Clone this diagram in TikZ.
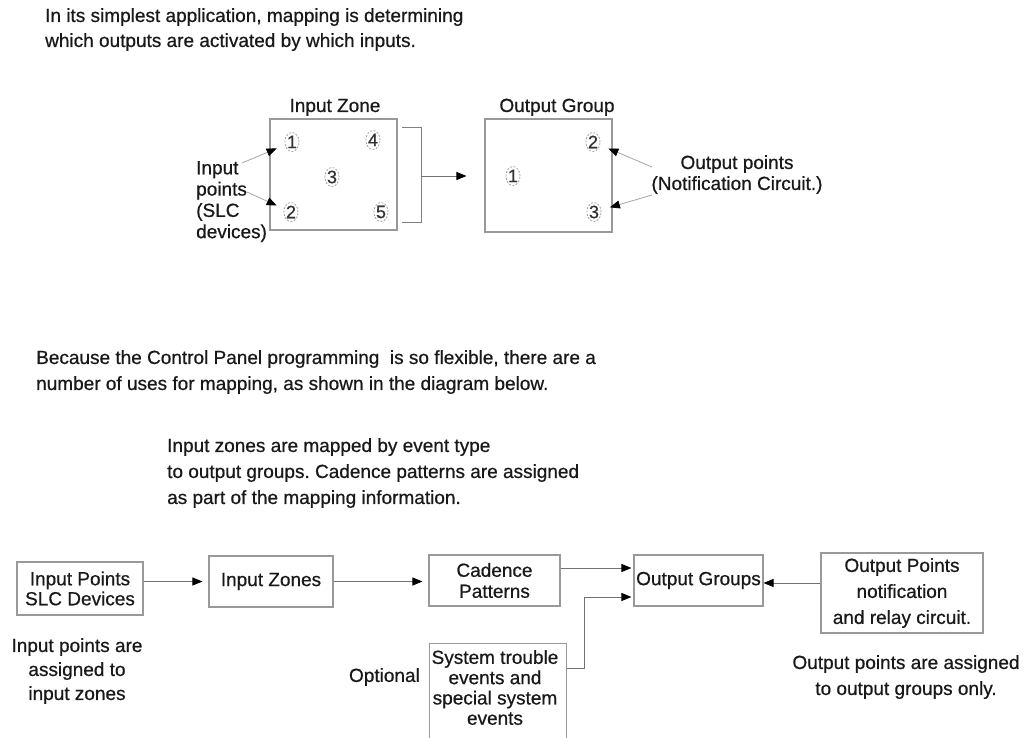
\documentclass[tikz,border=0pt]{standalone}
\usepackage{fontspec}
\setmainfont{Liberation Sans}[FakeBold=0.6]
\frenchspacing
\usetikzlibrary{arrows.meta,shapes.geometric}
\begin{document}
\begin{tikzpicture}[x=1pt,y=-1pt,
  txt/.style={inner sep=0pt, text=black!90, font=\fontsize{19}{25}\selectfont},
  boxln/.style={draw=black!40, line width=1.1pt},
  box/.style={boxln, inner sep=0pt, align=center, text=black!90},
  pt/.style={ellipse, draw=black!40, dash pattern=on 2pt off 1.5pt, line width=0.7pt, minimum width=14pt, minimum height=19pt, inner sep=0pt, font=\fontsize{18}{18}\selectfont, text=black!80},
  arr/.style={draw=black!55, line width=0.9pt, -{Triangle[length=10pt,width=8pt,black]}},
  lead/.style={draw=black!35, line width=0.8pt, -{Triangle[length=10pt,width=8pt,black]}}
]
\useasboundingbox[fill=white] (0,0) rectangle (1023,738);

% ---------- top text ----------
\node[txt, anchor=north west, align=left] (t1) at (45,8)
  {In its simplest application, mapping is determining\\which outputs are activated by which inputs.};

% ---------- top diagram ----------
\node[txt, anchor=base] (lz) at (335,112) {Input Zone};
\node[txt, anchor=base] (lg) at (557,112) {Output Group};
\node[boxln, minimum width=127pt, minimum height=111pt, inner sep=0pt] (iz0) at (333.5,174.5) {};
\node[boxln, minimum width=127pt, minimum height=113pt, inner sep=0pt] (og0) at (548.5,175.5) {};

\node[pt] (a1) at (292,142) {1};
\node[pt] (a4) at (373,140) {4};
\node[pt] (a3) at (332,177) {3};
\node[pt] (a2) at (291,212) {2};
\node[pt] (a5) at (381,212) {5};
\node[pt] (b1) at (513,176) {1};
\node[pt] (b2) at (593,142) {2};
\node[pt] (b3) at (594,212) {3};

\draw[draw=black!50, line width=1pt] (402,128) -- (421,128) -- (421,223) -- (402,223);
\coordinate (brk) at (421,176);
\draw[arr, shorten >=18pt] (brk) -- (og0.west |- brk);

\node[txt, anchor=north west, align=left, font=\fontsize{19}{21.3}\selectfont] (ipl) at (196,161)
  {Input\\points\\(SLC\\devices)};
\coordinate (ipl1) at (242,163);
\coordinate (ipl2) at (247,192);
\draw[lead, shorten >=9pt] (ipl1) -- (a1);
\draw[lead, shorten >=8pt] (ipl2) -- (a2);

\node[txt, anchor=north, align=center, font=\fontsize{19}{21}\selectfont] (opl) at (737,155)
  {Output points\\(Notification Circuit.)};
\coordinate (opl1) at (652,167);
\coordinate (opl2) at (652,195);
\draw[lead, shorten >=9pt] (opl1) -- (b2);
\draw[lead, shorten >=9pt] (opl2) -- (b3);

% ---------- middle text ----------
\node[txt, anchor=north west, align=left, font=\fontsize{19}{26}\selectfont] (t2) at (36,350)
  {Because the Control Panel programming\ \ is so flexible, there are a\\number of uses for mapping, as shown in the diagram below.};
\node[txt, anchor=north west, align=left, font=\fontsize{19}{26}\selectfont] (t3) at (167,438)
  {Input zones are mapped by event type\\to output groups. Cadence patterns are assigned\\as part of the mapping information.};

% ---------- bottom flow ----------
\node[box, minimum width=126pt, minimum height=53pt, font=\fontsize{19}{20}\selectfont] (ip) at (80,588.5) {Input Points\\SLC Devices};
\node[box, minimum width=124pt, minimum height=51pt, font=\fontsize{19}{20}\selectfont] (iz) at (271,581.5) {Input Zones};
\node[box, minimum width=131pt, minimum height=51pt, font=\fontsize{19}{21}\selectfont] (cp) at (494.5,580.5) {Cadence\\Patterns};
\node[box, minimum width=129pt, minimum height=51pt, font=\fontsize{19}{20}\selectfont] (og) at (698.5,580.5) {Output Groups};
\node[box, minimum width=162pt, minimum height=80pt, font=\fontsize{19}{26}\selectfont] (op) at (902,593) {Output Points\\notification\\and relay circuit.};
\node[boxln, minimum width=137pt, minimum height=104pt, anchor=north west, inner sep=0pt] (stb) at (429,643) {};
\node[txt, align=center, font=\fontsize{19}{20.3}\selectfont] (st) at (495,687.5) {System trouble\\events and\\special system\\events};

\draw[arr, shorten >=6pt] (ip.east |- iz.west) -- (iz.west);
\draw[arr, shorten >=6pt] (iz.east) -- (iz.east -| cp.west);
\draw[arr, shorten >=2pt] ([yshift=12.5pt]cp.east) -- ([yshift=12.5pt]og.west);
\draw[arr, shorten >=2pt] ([yshift=-25pt]stb.north east) -- ++(17,0) |- ([yshift=-16.5pt]og.west);
\draw[arr] ([yshift=10pt]op.west) -- ([yshift=-2.5pt]og.east);

\node[txt, anchor=north, align=center, font=\fontsize{19}{24}\selectfont] (t4) at (77,638) {Input points are\\assigned to\\input zones};
\node[txt, anchor=east] (t5) at (420,677) {Optional};
\node[txt, anchor=north, align=center, font=\fontsize{19}{26}\selectfont] (t6) at (906,655) {Output points are assigned\\to output groups only.};
\end{tikzpicture}
\end{document}
